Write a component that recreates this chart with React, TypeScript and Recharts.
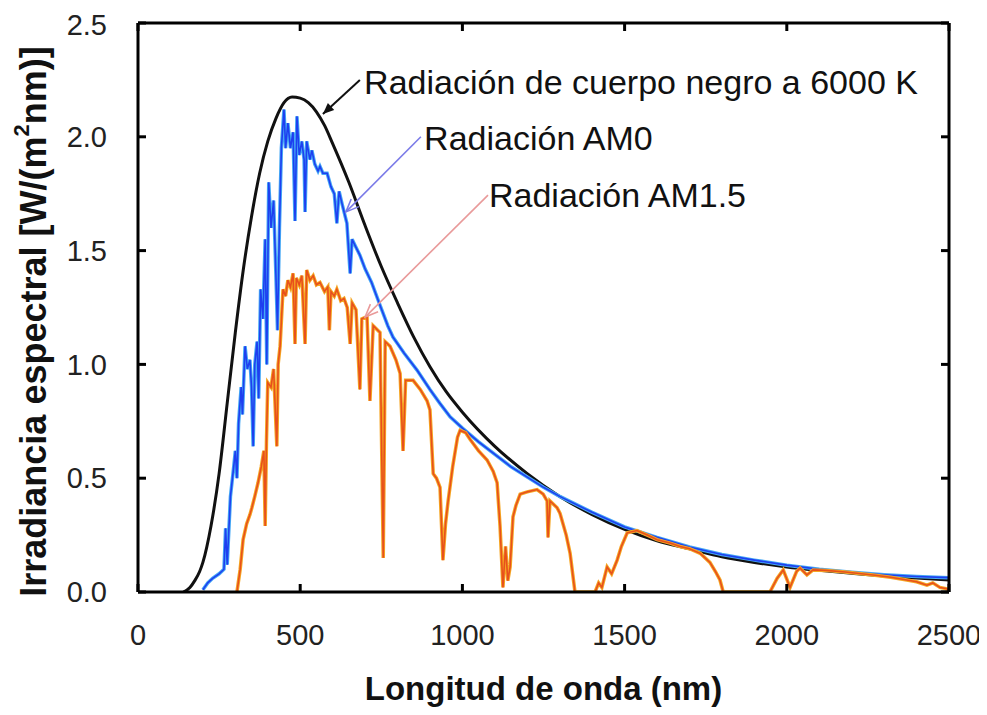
import React from 'react'
import { LineChart, Line, XAxis, YAxis, ReferenceLine, ReferenceDot } from 'recharts'

// ticks
const xTicks = [0, 500, 1000, 1500, 2000, 2500]
const yTicks = [0, 0.5, 1, 1.5, 2, 2.5]

// cuerpo negro 6000 K
const bbNm = [140, 160, 175, 190, 200, 225, 250, 275, 300, 325, 350, 375, 400, 425, 450, 475, 500, 525, 550, 575, 600, 650, 700, 750, 800, 850, 900, 950, 1000, 1100, 1200, 1300, 1400, 1500, 1600, 1700, 1800, 1900, 2000, 2100, 2200, 2300, 2400, 2500]
const bbVal = [0, 0.02, 0.05, 0.09, 0.13, 0.29, 0.52, 0.83, 1.14, 1.42, 1.65, 1.84, 1.98, 2.08, 2.15, 2.175, 2.17, 2.15, 2.11, 2.05, 1.97, 1.8, 1.61, 1.43, 1.27, 1.12, 0.99, 0.88, 0.79, 0.64, 0.52, 0.42, 0.34, 0.275, 0.225, 0.19, 0.155, 0.13, 0.11, 0.095, 0.082, 0.07, 0.061, 0.053]

// radiación AM0
const am0Nm = [200, 215, 230, 250, 265, 270, 275, 285, 295, 300, 305, 310, 318, 322, 330, 337, 345, 350, 355, 360, 367, 372, 378, 385, 392, 397, 403, 410, 418, 425, 430, 436, 442, 450, 455, 462, 470, 478, 484, 490, 497, 505, 512, 515, 520, 530, 536, 545, 555, 561, 570, 583, 595, 605, 613, 620, 630, 644, 654, 660, 670, 684, 700, 720, 746, 770, 786, 820, 860, 900, 930, 962, 1000, 1050, 1095, 1150, 1200, 1250, 1300, 1400, 1500, 1600, 1700, 1800, 1900, 2000, 2100, 2200, 2300, 2400, 2500]
const am0Val = [0.01, 0.04, 0.06, 0.08, 0.1, 0.28, 0.12, 0.42, 0.55, 0.62, 0.5, 0.74, 0.9, 0.78, 1.08, 0.98, 1.02, 0.9, 0.64, 1.0, 1.1, 0.85, 1.33, 1.2, 1.55, 1.0, 1.8, 1.6, 1.72, 1.4, 1.15, 1.6, 1.95, 2.12, 1.95, 2.06, 1.95, 2.02, 1.63, 2.09, 1.92, 1.98, 1.9, 1.67, 1.98, 1.9, 1.94, 1.88, 1.85, 1.87, 1.84, 1.84, 1.78, 1.75, 1.62, 1.76, 1.7, 1.62, 1.4, 1.55, 1.52, 1.48, 1.42, 1.36, 1.26, 1.17, 1.12, 1.05, 0.975, 0.89, 0.83, 0.77, 0.72, 0.66, 0.61, 0.55, 0.505, 0.46, 0.42, 0.35, 0.286, 0.24, 0.198, 0.165, 0.14, 0.118, 0.1, 0.087, 0.076, 0.068, 0.063]

// radiación AM1.5
const am15Nm = [305, 315, 324, 335, 345, 351, 360, 370, 380, 388, 392, 396, 400, 410, 418, 428, 432, 438, 447, 455, 462, 470, 478, 484, 488, 497, 505, 515, 520, 530, 540, 550, 561, 575, 585, 590, 595, 605, 613, 625, 635, 645, 654, 660, 672, 684, 690, 706, 715, 725, 746, 756, 762, 777, 795, 808, 817, 825, 848, 870, 891, 900, 910, 920, 931, 940, 948, 956, 970, 985, 993, 1010, 1024, 1050, 1076, 1095, 1107, 1116, 1125, 1133, 1140, 1147, 1156, 1165, 1178, 1200, 1230, 1249, 1261, 1264, 1270, 1292, 1301, 1320, 1332, 1347, 1409, 1420, 1430, 1446, 1460, 1477, 1490, 1508, 1538, 1570, 1600, 1640, 1671, 1700, 1733, 1763, 1780, 1794, 1804, 1948, 1970, 1989, 2010, 2030, 2041, 2062, 2081, 2120, 2180, 2266, 2320, 2370, 2400, 2432, 2450, 2472, 2490, 2500]
const am15Val = [0, 0.1, 0.23, 0.3, 0.34, 0.37, 0.42, 0.48, 0.55, 0.62, 0.29, 0.66, 0.92, 0.9, 0.98, 0.64, 1.0, 1.08, 1.33, 1.3, 1.37, 1.34, 1.4, 1.09, 1.38, 1.35, 1.39, 1.09, 1.415, 1.37, 1.39, 1.35, 1.36, 1.32, 1.34, 1.15, 1.32, 1.3, 1.33, 1.28, 1.29, 1.25, 1.09, 1.27, 1.24, 0.89, 1.2, 1.21, 0.84, 1.17, 1.14, 0.15, 1.1, 1.08, 1.02, 0.96, 0.62, 0.93, 0.93, 0.89, 0.84, 0.8, 0.52, 0.5, 0.46, 0.14, 0.3, 0.4, 0.55, 0.68, 0.71, 0.7, 0.67, 0.62, 0.58, 0.53, 0.48, 0.29, 0.02, 0.2, 0.05, 0.11, 0.33, 0.38, 0.43, 0.44, 0.45, 0.43, 0.4, 0.24, 0.4, 0.37, 0.345, 0.25, 0.17, 0, 0, 0.04, 0.02, 0.11, 0.08, 0.14, 0.2, 0.26, 0.27, 0.25, 0.23, 0.215, 0.2, 0.19, 0.17, 0.13, 0.09, 0.053, 0, 0, 0.06, 0.097, 0.02, 0.09, 0.105, 0.075, 0.097, 0.095, 0.088, 0.075, 0.065, 0.053, 0.045, 0.03, 0.04, 0.02, 0.015, 0.01]

const zip = (nm: number[], v: number[]) => nm.map((x, i) => ({ nm: x, v: v[i] }))
const bbData = zip(bbNm, bbVal)
const am0Data = zip(am0Nm, am0Val)
const am15Data = zip(am15Nm, am15Val)

const FONT = '"Liberation Sans", Arial, sans-serif'

// flecha dibujada sobre el segmento de ReferenceLine
const arrow = (color: string, filled: boolean, w: number) => (p: any) => {
  const { x1, y1, x2, y2 } = p
  const a = Math.atan2(y2 - y1, x2 - x1)
  const L = filled ? 12 : 14
  const s = 0.4
  const ax = x2 - L * Math.cos(a - s), ay = y2 - L * Math.sin(a - s)
  const bx = x2 - L * Math.cos(a + s), by = y2 - L * Math.sin(a + s)
  return (
    <g>
      <line x1={x1} y1={y1} x2={x2} y2={y2} stroke={color} strokeWidth={w} />
      {filled
        ? <path d={`M${x2},${y2}L${ax},${ay}L${bx},${by}Z`} fill={color} />
        : <path d={`M${ax},${ay}L${x2},${y2}L${bx},${by}`} fill="none" stroke={color} strokeWidth={w} />}
    </g>
  )
}

const note = (txt: string) => (p: any) => {
  const { viewBox } = p
  return (
    <text x={viewBox.x} y={viewBox.y} dominantBaseline="central" fontSize={34} fill="#111" fontFamily={FONT}>{txt}</text>
  )
}

const YTitle = (p: any) => {
  const { viewBox } = p
  const cx = viewBox.x - 45
  const cy = viewBox.y + viewBox.height / 2 + 14
  return (
    <text x={cx} y={cy} transform={`rotate(-90 ${cx} ${cy})`} textAnchor="middle" dominantBaseline="central" fontSize={36} fontWeight="bold" fill="#111" fontFamily={FONT}>
      Irradiancia espectral [W/(m<tspan dy={-12} fontSize={22}>2</tspan><tspan dy={12}>nm)]</tspan>
    </text>
  )
}

const tickStyle = { fontSize: 29, fill: '#222', fontFamily: FONT }
const frame = { stroke: '#000', strokeWidth: 3 }

export default function App() {
  return (
    <div style={{ width: 979, height: 699, background: '#fff', fontFamily: FONT }}>
      <LineChart width={979} height={699} margin={{ top: 14, right: 37, left: 70, bottom: 55 }}>
        <XAxis dataKey="nm" type="number" domain={[0, 2500]} ticks={xTicks} allowDataOverflow
          axisLine={frame} tickLine={frame}
          tickSize={-8} tickMargin={40} tick={tickStyle} height={60}
          label={{ value: 'Longitud de onda (nm)', position: 'bottom', offset: 25, fontSize: 33, fontWeight: 'bold', fill: '#111' }} />
        <XAxis xAxisId="top" dataKey="nm" orientation="top" type="number" domain={[0, 2500]} ticks={xTicks} allowDataOverflow
          axisLine={frame} tickLine={frame}
          tickSize={-8} tickFormatter={() => ''} height={1} />
        <YAxis type="number" domain={[0, 2.5]} ticks={yTicks} allowDataOverflow width={60}
          axisLine={frame} tickLine={frame}
          tickSize={-8} tickMargin={39} tick={tickStyle} tickFormatter={(v: number) => v.toFixed(1)}
          label={{ content: YTitle }} />
        <YAxis yAxisId="right" orientation="right" type="number" domain={[0, 2.5]} ticks={yTicks} allowDataOverflow width={1}
          axisLine={frame} tickLine={frame}
          tickSize={-8} tickFormatter={() => ''} />

        {/* serie invisible para que se dibujen los ejes superior y derecho */}
        <Line data={bbData} xAxisId="top" yAxisId="right" dataKey="v" stroke="none" dot={false} activeDot={false} isAnimationActive={false} />

        <Line data={bbData} dataKey="v" type="monotone" stroke="#111" strokeWidth={3} dot={false} isAnimationActive={false} />
        <Line data={am0Data} dataKey="v" type="linear" stroke="#45a8f5" strokeWidth={3.5} dot={false} isAnimationActive={false} />
        <Line data={am0Data} dataKey="v" type="linear" stroke="#1e3ff0" strokeWidth={1.6} dot={false} isAnimationActive={false} />
        <Line data={am15Data} dataKey="v" type="linear" stroke="#f5a623" strokeWidth={3.5} dot={false} isAnimationActive={false} />
        <Line data={am15Data} dataKey="v" type="linear" stroke="#e8501c" strokeWidth={1.6} dot={false} isAnimationActive={false} />

        <ReferenceLine segment={[{ x: 684, y: 2.25 }, { x: 570, y: 2.1 }]} shape={arrow('#111', true, 2)} />
        <ReferenceLine segment={[{ x: 872, y: 2.0 }, { x: 641, y: 1.67 }]} shape={arrow('#7b7be8', false, 1.6)} />
        <ReferenceLine segment={[{ x: 1079, y: 1.744 }, { x: 700, y: 1.208 }]} shape={arrow('#e99a9a', false, 1.6)} />

        <ReferenceDot x={700} y={2.237} r={1} fill="none" stroke="none" label={{ content: note('Radiación de cuerpo negro a 6000 K') }} />
        <ReferenceDot x={885} y={1.99} r={1} fill="none" stroke="none" label={{ content: note('Radiación AM0') }} />
        <ReferenceDot x={1085} y={1.74} r={1} fill="none" stroke="none" label={{ content: note('Radiación AM1.5') }} />
      </LineChart>
    </div>
  )
}
